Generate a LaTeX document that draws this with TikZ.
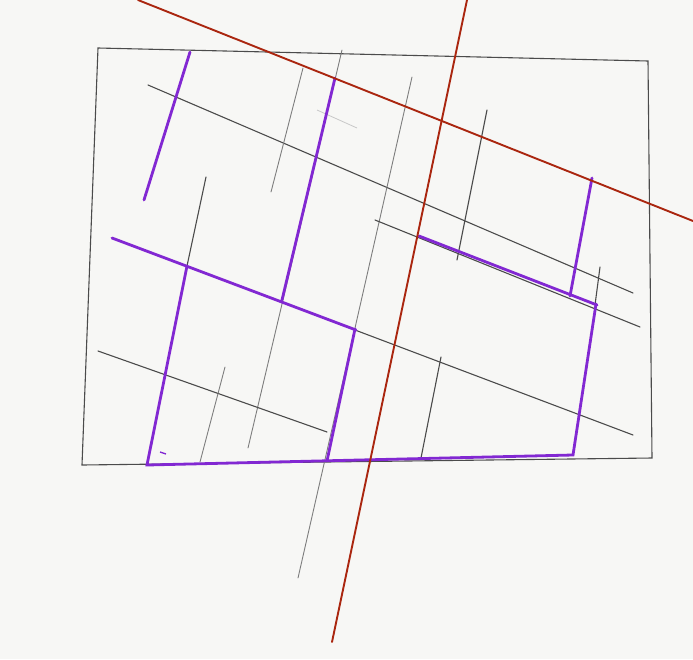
\documentclass[tikz,border=0pt]{standalone}
\usepackage{tikz}
\definecolor{paper}{RGB}{247,247,245}
\definecolor{pencil}{RGB}{75,75,75}
\definecolor{lightpencil}{RGB}{125,125,125}
\definecolor{ghostpencil}{RGB}{200,200,200}
\definecolor{violetpen}{RGB}{130,40,210}
\definecolor{redpen}{RGB}{170,38,15}
\tikzset{
  pencilline/.style={draw=pencil, line width=1.1pt, line cap=round},
  faintline/.style={draw=lightpencil, line width=0.9pt, line cap=round},
  purpleline/.style={draw=violetpen, line width=2.8pt, line cap=round},
  redline/.style={draw=redpen, line width=1.9pt, line cap=round}
}
\begin{document}
\begin{tikzpicture}[x=1pt,y=-1pt]
\fill[paper] (0,0) rectangle (693,659);
\useasboundingbox (0,0) rectangle (693,659);
% outer frame
\draw[pencilline] (98,48) -- (648,61) -- (652,458) -- (82,465) -- cycle;
% pencil lines
\draw[pencilline] (148,85) -- (633,293);
\draw[faintline] (303,68) -- (271,192);
\draw[draw=ghostpencil, line width=0.8pt] (317,110) -- (357,128);
\draw[faintline] (342,50) -- (248,448);
\draw[faintline] (412,77) -- (355,328) -- (298,578);
\draw[pencilline] (487,110) -- (457,260);
\draw[pencilline] (206,177) -- (187,266);
\draw[pencilline] (375,220) -- (640,327);
\draw[pencilline] (355,330) -- (633,435);
\draw[pencilline] (98,351) -- (327,432);
\draw[faintline] (225,367) -- (200,462);
\draw[pencilline] (441,357) -- (421,458);
\draw[pencilline] (595,305) -- (600,267);
% purple lines
\draw[purpleline] (190,52) -- (144,200);
\draw[purpleline] (335,78) -- (282,300);
\draw[purpleline] (112,238) -- (356,330);
\draw[purpleline] (355,329) -- (327,461);
\draw[purpleline] (187,266) -- (147,465) -- (573,455) -- (596,304);
\draw[purpleline] (419,236) -- (597,305);
\draw[purpleline] (592,178) -- (570,296);
\draw[violetpen, line width=1.4pt] (160,452) -- (166,454);
% red lines
\draw[redline] (467,0) -- (332,642);
\draw[redline] (138,0) -- (693,221);
\end{tikzpicture}
\end{document}
